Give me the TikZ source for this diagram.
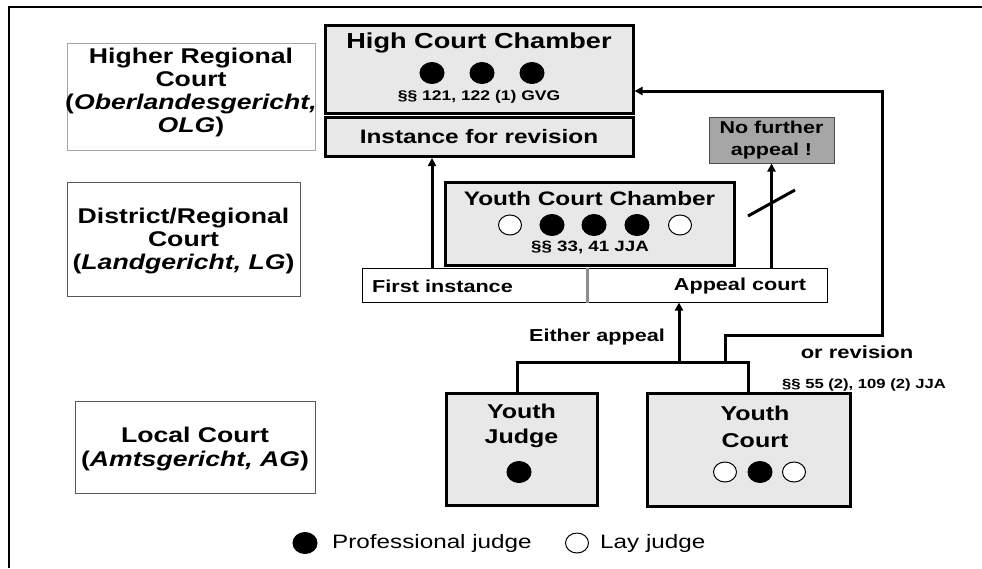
\documentclass[tikz,border=0pt]{standalone}
\usepackage{fontspec}
\setmainfont{Liberation Sans}[FakeStretch=1.25]
\usepackage{tikz}
\usetikzlibrary{positioning,calc,shapes.geometric,arrows.meta}
\definecolor{boxgray}{HTML}{E8E8E8}
\definecolor{darkbox}{HTML}{A6A6A6}
\tikzset{x=1pt,y=-1pt,
>={Triangle[length=8pt,width=8pt]},
lvl/.style={rectangle,draw=black!65,line width=1pt,inner sep=0pt},
lvltext/.style={align=center,inner sep=0pt,font=\fontsize{21.3}{23}\selectfont\bfseries},
chamber/.style={rectangle,draw,line width=3pt,fill=boxgray,inner sep=0pt},
title/.style={font=\fontsize{20}{25.5}\selectfont\bfseries,align=center,inner sep=0pt},
para/.style={font=\fontsize{14}{16}\selectfont\bfseries,inner sep=0pt},
lbl/.style={font=\fontsize{17.3}{20}\selectfont\bfseries,inner sep=0pt},
strip/.style={rectangle,draw,line width=1pt,fill=white,minimum height=34pt,inner sep=0pt},
pj/.style={ellipse,draw,fill=black,line width=1pt,minimum width=24pt,minimum height=21pt,inner sep=0pt},
lj/.style={ellipse,draw,fill=white,line width=1pt,minimum width=23pt,minimum height=20pt,inner sep=0pt},
arr/.style={->,line width=3pt},
link/.style={line width=3pt},
}
\begin{document}
\begin{tikzpicture}
	\useasboundingbox (0,0) rectangle (982,568);
	% frame
	\draw[line width=2.5pt] (982,7) -- (9,7) -- (9,568);

	% court levels
	\node[lvl,draw=black!35,minimum width=248pt,minimum height=107pt] (olg) at (191,96.5) {};
	\node[lvltext] (olgtext) at (191,92)
		{Higher Regional\\Court\\(\textit{Oberlandesgericht,}\\\textit{OLG})};
	\node[lvl,minimum width=233pt,minimum height=114pt] (lg) at (183.5,239) {};
	\node[lvltext] (lgtext) at (183.5,241)
		{District/Regional\\Court\\(\textit{Landgericht, LG})};
	\node[lvl,minimum width=240pt,minimum height=92pt] (ag) at (195,447) {};
	\node[lvltext,font=\fontsize{21.3}{24}\selectfont\bfseries] (agtext) at (195,449)
		{Local Court\\(\textit{Amtsgericht, AG})};

	% higher regional court
	\node[chamber,minimum width=308pt,minimum height=88pt] (hcc) at (479,69) {};
	\node[title,font=\fontsize{21.7}{25}\selectfont\bfseries] (hcctitle) at (479,43) {High Court Chamber};
	\foreach \x in {432,482,532}
		\node[pj] at (\x,73) {};
	\node[para] (hccpara) at (479,97) {§§ 121, 122 (1) GVG};
	\node[chamber,minimum width=308pt,minimum height=39pt,font=\fontsize{19.5}{22}\selectfont\bfseries] (instrev) at (479,137)
		{Instance for revision};

	% district court
	\node[chamber,minimum width=289pt,minimum height=83pt] (ycc) at (589.5,223.5) {};
	\node[title,font=\fontsize{19.5}{22}\selectfont\bfseries] (ycctitle) at (589.5,199) {Youth Court Chamber};
	\foreach \x/\s in {510/lj,552/pj,594/pj,637/pj,680/lj}
		\node[\s] at (\x,225) {};
	\node[para,font=\fontsize{15}{16}\selectfont\bfseries] (yccpara) at (590,247) {§§ 33, 41 JJA};
	\node[strip,minimum width=225pt] (first) at (474.5,285) {};
	\node[lbl,anchor=west] at (372,286) {First instance};
	\node[strip,minimum width=240pt] (appeal) at (707,285) {};
	\node[lbl] at (740,286) {Appeal court};
	\draw[line width=3pt,draw=black!45] (first.north east) -- (first.south east);
	\node[rectangle,draw=black!70,line width=1pt,fill=darkbox,minimum width=125pt,minimum height=46pt,
		align=center,inner sep=0pt,font=\fontsize{17.2}{22}\selectfont\bfseries] (nofurther) at (771.5,140)
		{No further\\appeal !};

	% local court
	\node[chamber,minimum width=151pt,minimum height=112pt] (judge) at (521.5,449) {};
	\node[title] at (521.5,426) {Youth\\Judge};
	\node[pj] at (519,472) {};
	\node[chamber,minimum width=203pt,minimum height=113pt] (ycourt) at (748.5,449.5) {};
	\node[title,font=\fontsize{20}{27}\selectfont\bfseries] at (755,427) {Youth\\Court};
	\foreach \x/\s in {725/lj,760/pj,794/lj}
		\node[\s] at (\x,472) {};

	% connectors
	\coordinate (up1) at (432,268);
	\draw[arr] (up1) -- (up1 |- instrev.south);
	\draw[arr] (appeal.north -| nofurther.south) -- (nofurther.south);
	\draw[line width=3pt] (748,216) -- (795,190);
	\coordinate (jt) at (517,362);
	\coordinate (ct) at (748,362);
	\draw[link] (jt |- judge.north) -- (jt) -- (ct) -- (ct |- ycourt.north);
	\coordinate (ea) at (679,362);
	\draw[arr] (ea) -- (ea |- appeal.south);
	\coordinate (rv) at (725,362);
	\coordinate (rvtop) at (882,91);
	\draw[arr] (rv) -- ++(0,-27) -| (rvtop) -- (rvtop -| hcc.east);

	% labels
	\node[lbl] at (597,337) {Either appeal};
	\node[lbl,font=\fontsize{17.6}{20}\selectfont\bfseries] at (857,352) {or revision};
	\node[para,font=\fontsize{13.3}{14}\selectfont\bfseries] at (864,385) {§§ 55 (2), 109 (2) JJA};

	% legend
	\node[pj] (legpj) at (305,543) {};
	\node[anchor=west,inner sep=0pt,font=\fontsize{19.4}{22}\selectfont] at (332,543) {Professional judge};
	\node[lj] (leglj) at (577,543) {};
	\node[anchor=west,inner sep=0pt,font=\fontsize{19.4}{22}\selectfont] at (600,543) {Lay judge};
\end{tikzpicture}
\end{document}
